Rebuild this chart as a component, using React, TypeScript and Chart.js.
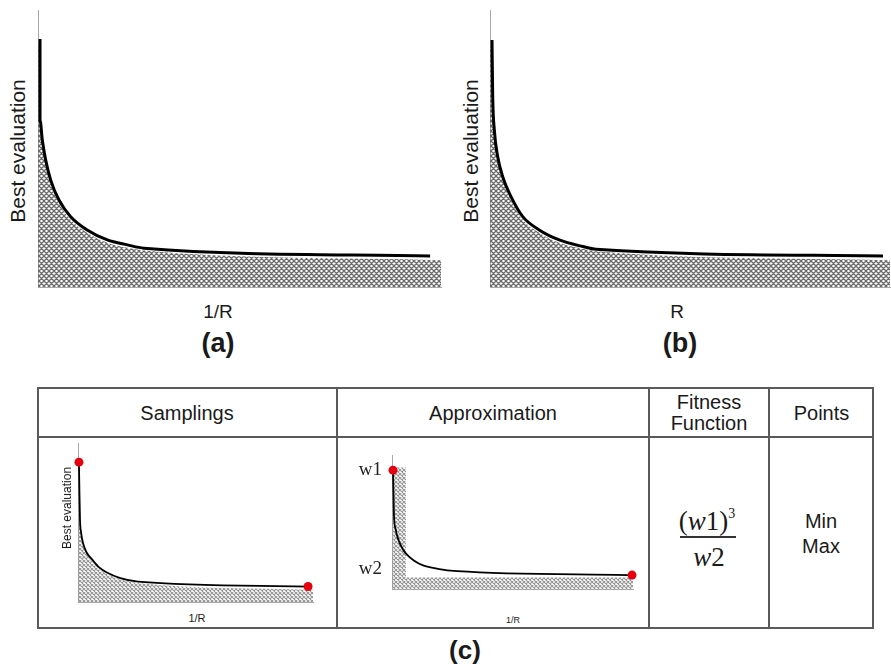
import React, { useEffect, useRef } from 'react';
import { Chart, registerables } from 'chart.js';

Chart.register(...registerables);

// ---------- data (x: 0..100 along the axis, y: 0..100 up the axis) ----------
// (a) Best evaluation vs 1/R
const aCurveX = [0.5, 0.5, 1.07, 1.91, 3.15, 5.2, 8.1, 12.2, 17.2, 22.2, 26.3, 97.3];
const aCurveY = [89.5, 60.3, 53.1, 45.8, 38.6, 31.4, 25.4, 20.6, 17.0, 15.2, 14.0, 11.2];
const aHatchX = [0, 0.5, 0.6, 1.2, 2.0, 3.2, 5.2, 8.1, 12.2, 17.2, 22.2, 26.3, 100];
const aHatchY = [87, 84, 59, 52, 44.6, 37.4, 30.2, 24.3, 19.6, 16.0, 14.2, 13.2, 9.7];

// (b) Best evaluation vs R
const bCurveX = [0.5, 0.68, 1.08, 1.93, 3.18, 5.25, 8.18, 12.3, 17.3, 23.2, 26.5, 98.25];
const bCurveY = [89.2, 68.7, 56.7, 47.0, 39.8, 32.6, 25.4, 20.6, 17.0, 14.6, 13.6, 11.2];
const bHatchX = [0, 0.55, 0.75, 1.15, 2.0, 3.2, 5.25, 8.2, 12.3, 17.3, 23.2, 26.5, 100];
const bHatchY = [87, 84, 67.5, 55.5, 45.8, 38.6, 31.4, 24.3, 19.6, 16.0, 13.8, 12.9, 9.7];

// (c) Samplings
const sCurveX = [0.4, 0.6, 0.85, 1.3, 2.1, 3.6, 6, 9, 12.3, 18, 25.5, 97.9];
const sCurveY = [88, 70, 52, 44, 37.5, 31.5, 27, 22, 18.8, 15.3, 13.1, 10];
const sHatchX = [0, 0.6, 0.85, 1.3, 2.1, 3.6, 6, 9, 12.3, 18, 25.5, 100];
const sHatchY = [86, 69, 51, 43, 36.5, 30.5, 26, 21, 18, 14.5, 12.3, 8];
const sDotX = [0.4, 97.9];
const sDotY = [88, 10];

// (c) Approximation
const pCurveX = [0.4, 0.6, 0.8, 1.5, 2.5, 4.2, 6.2, 9.2, 12.9, 19, 27, 99.6];
const pCurveY = [89, 72, 56, 45, 38, 31, 26, 21.5, 18, 15.5, 13.8, 10.8];
const pHatchX = [0, 5.8, 5.8, 100];
const pHatchY = [91, 91, 9, 9];
const pDotX = [0.4, 99.6];
const pDotY = [89, 10.8];
const wTickValues = [89, 15];
const wTickLabels = ['w1', 'w2'];

// table text
const tableHeaders = ['Samplings', 'Approximation', 'Fitness\nFunction', 'Points'];
const pointsText = ['Min', 'Max'];

const SANS = '"Liberation Sans", Arial, sans-serif';
const SERIF = '"Liberation Serif", "Times New Roman", serif';

function makeHatch(size: number, color: string, lw: number) {
  const c = document.createElement('canvas');
  c.width = size;
  c.height = size;
  const g = c.getContext('2d')!;
  g.strokeStyle = color;
  g.lineWidth = lw;
  g.beginPath();
  for (const o of [-size, 0, size]) {
    g.moveTo(o, 0);
    g.lineTo(o + size, size);
    g.moveTo(o + size, 0);
    g.lineTo(o, size);
  }
  g.stroke();
  return g.createPattern(c, 'repeat')!;
}

type Props = {
  left: number; top: number; right: number; bottom: number;
  padL: number; padR: number; padT: number; padB: number;
  curveX: number[]; curveY: number[];
  hatchX: number[]; hatchY: number[]; hatchStraight?: boolean;
  dotsX?: number[]; dotsY?: number[]; dotR?: number;
  lineWidth: number;
  hatch: { size: number; color: string; lw: number };
  yTicks?: { values: number[]; labels: string[]; width: number };
};

const pts = (xs: number[], ys: number[]) => xs.map((x, i) => ({ x, y: ys[i] }));

function CurveChart(p: Props) {
  const ref = useRef<HTMLCanvasElement>(null);
  const yW = p.yTicks ? p.yTicks.width : 0;
  const w = p.right - p.left + p.padL + p.padR + yW;
  const h = p.bottom - p.top + p.padT + p.padB;
  useEffect(() => {
    const pattern = makeHatch(p.hatch.size, p.hatch.color, p.hatch.lw);
    const datasets: any[] = [];
    if (p.dotsX && p.dotsY) {
      datasets.push({
        type: 'scatter',
        data: pts(p.dotsX, p.dotsY),
        pointRadius: p.dotR ?? 4.5,
        pointBackgroundColor: '#e5000e',
        pointBorderWidth: 0,
        showLine: false,
        order: 0,
        clip: false,
      });
    }
    datasets.push({
      data: pts(p.curveX, p.curveY),
      borderColor: '#000',
      borderWidth: p.lineWidth,
      pointRadius: 0,
      fill: false,
      cubicInterpolationMode: 'monotone',
      order: 1,
      clip: false,
    });
    datasets.push({
      data: pts(p.hatchX, p.hatchY),
      borderWidth: 0,
      borderColor: 'rgba(0,0,0,0)',
      backgroundColor: pattern,
      fill: 'origin',
      pointRadius: 0,
      tension: 0,
      cubicInterpolationMode: p.hatchStraight ? 'default' : 'monotone',
      order: 2,
    });
    const yt = p.yTicks;
    const chart = new Chart(ref.current!, {
      type: 'line',
      data: { datasets },
      options: {
        animation: false,
        responsive: false,
        devicePixelRatio: 1,
        layout: { padding: { left: p.padL, right: p.padR, top: p.padT, bottom: p.padB } },
        plugins: { legend: { display: false }, tooltip: { enabled: false } },
        scales: {
          x: {
            type: 'linear', min: 0, max: 100,
            grid: { display: false, drawTicks: false, tickLength: 0 },
            ticks: { display: false },
            border: { display: true, color: '#a8a8a8', width: 1 },
            afterFit: (s: any) => { s.height = 0; },
          },
          y: {
            type: 'linear', min: 0, max: 100,
            grid: { display: false, drawTicks: false, tickLength: 0 },
            ticks: yt
              ? {
                  display: true, autoSkip: false, padding: 10, color: '#222',
                  font: { family: SERIF, size: 19 },
                  callback: (_v: any, i: number) => yt.labels[i],
                }
              : { display: false },
            afterBuildTicks: yt ? (s: any) => { s.ticks = yt.values.map((v) => ({ value: v })); } : undefined,
            border: { display: true, color: '#a8a8a8', width: 1 },
            afterFit: (s: any) => { s.width = yW; },
          },
        },
      } as any,
    });
    return () => chart.destroy();
  }, []);
  return (
    <canvas
      ref={ref}
      width={w}
      height={h}
      style={{ position: 'absolute', left: p.left - p.padL - yW, top: p.top - p.padT, width: w, height: h }}
    />
  );
}

function Label(props: { x: number; y: number; text: string; size: number; bold?: boolean; rotate?: boolean; family?: string; lh?: number }) {
  return (
    <div
      style={{
        position: 'absolute', left: props.x, top: props.y,
        transform: `translate(-50%,-50%)${props.rotate ? ' rotate(-90deg)' : ''}`,
        fontFamily: props.family ?? SANS, fontSize: props.size, fontWeight: props.bold ? 700 : 400,
        color: '#1a1a1a', whiteSpace: 'pre', lineHeight: props.lh ? `${props.lh}px` : 1, textAlign: 'center',
      }}
    >
      {props.text}
    </div>
  );
}

const LINE = '#5a5a5a';
const BIG_HATCH = { size: 5, color: '#6c6c6c', lw: 1.3 };
const SMALL_HATCH = { size: 4, color: '#969696', lw: 1.1 };

export default function App() {
  const colX = [37, 337, 649, 769, 874];
  const tTop = 387, tHead = 437, tBot = 629;
  return (
    <div style={{ position: 'absolute', left: 0, top: 0, width: 891, height: 664, overflow: 'hidden', background: '#fff' }}>
      {/* (a) */}
      <CurveChart left={38} top={10} right={441} bottom={287} padL={4} padR={4} padT={4} padB={4}
        curveX={aCurveX} curveY={aCurveY} hatchX={aHatchX} hatchY={aHatchY}
        lineWidth={3} hatch={BIG_HATCH} />
      <Label x={17} y={151} text="Best evaluation" size={21} rotate />
      <Label x={218} y={311} text="1/R" size={19} />
      <Label x={218} y={343} text="(a)" size={27} bold />

      {/* (b) */}
      <CurveChart left={490} top={10} right={890} bottom={287} padL={4} padR={1} padT={4} padB={4}
        curveX={bCurveX} curveY={bCurveY} hatchX={bHatchX} hatchY={bHatchY}
        lineWidth={3} hatch={BIG_HATCH} />
      <Label x={470} y={151} text="Best evaluation" size={21} rotate />
      <Label x={677} y={311} text="R" size={19} />
      <Label x={680} y={343} text="(b)" size={27} bold />

      {/* table (c) */}
      <div style={{ position: 'absolute', left: colX[0], top: tTop, width: colX[4] - colX[0], height: tBot - tTop, border: `2px solid ${LINE}`, boxSizing: 'border-box' }} />
      {colX.slice(1, 4).map((x) => (
        <div key={x} style={{ position: 'absolute', left: x - 1, top: tTop, width: 2, height: tBot - tTop, background: LINE }} />
      ))}
      <div style={{ position: 'absolute', left: colX[0], top: tHead - 1, width: colX[4] - colX[0], height: 2, background: LINE }} />
      {tableHeaders.map((t, i) => (
        <Label key={t} x={(colX[i] + colX[i + 1]) / 2} y={(tTop + tHead) / 2 + 1} text={t} size={20} lh={21} />
      ))}

      {/* Samplings mini chart */}
      <CurveChart left={78} top={443} right={313} bottom={603} padL={6} padR={6} padT={6} padB={4}
        curveX={sCurveX} curveY={sCurveY} hatchX={sHatchX} hatchY={sHatchY}
        dotsX={sDotX} dotsY={sDotY} dotR={4.5}
        lineWidth={1.8} hatch={SMALL_HATCH} />
      <Label x={67} y={508} text="Best evaluation" size={12} rotate />
      <Label x={197} y={618} text="1/R" size={11} />

      {/* Approximation mini chart */}
      <CurveChart left={392} top={440} right={633} bottom={607} padL={0} padR={6} padT={6} padB={4}
        curveX={pCurveX} curveY={pCurveY} hatchX={pHatchX} hatchY={pHatchY} hatchStraight
        dotsX={pDotX} dotsY={pDotY} dotR={4.5}
        lineWidth={1.8} hatch={SMALL_HATCH}
        yTicks={{ values: wTickValues, labels: wTickLabels, width: 40 }} />
      <Label x={513} y={620} text="1/R" size={9} />

      {/* Fitness function */}
      <div style={{ position: 'absolute', left: 707, top: 521, transform: 'translate(-50%,-50%)', fontFamily: SERIF, fontSize: 27, color: '#1a1a1a', whiteSpace: 'nowrap', lineHeight: 1 }}>
        (<i>w</i>1)<span style={{ fontSize: 14, position: 'relative', top: -12 }}>3</span>
      </div>
      <div style={{ position: 'absolute', left: 680, top: 536, width: 56, height: 2, background: '#333' }} />
      <div style={{ position: 'absolute', left: 709, top: 557, transform: 'translate(-50%,-50%)', fontFamily: SERIF, fontSize: 27, color: '#1a1a1a', whiteSpace: 'nowrap', lineHeight: 1 }}>
        <i>w</i>2
      </div>

      {/* Points */}
      <Label x={821} y={534} text={pointsText.join('\n')} size={20} lh={25} />

      <Label x={465} y={650} text="(c)" size={26} bold />
    </div>
  );
}
